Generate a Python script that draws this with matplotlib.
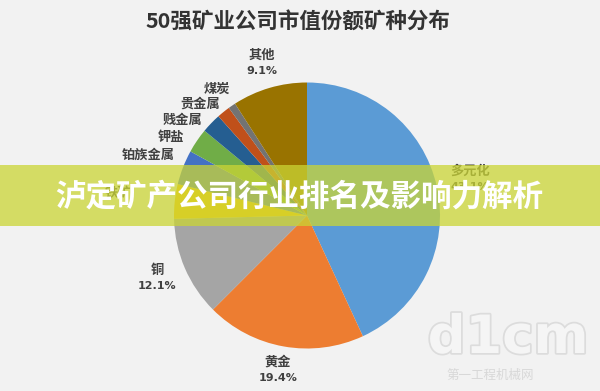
import matplotlib.pyplot as plt
from matplotlib.patches import Rectangle
import matplotlib.patheffects as pe

plt.rcParams['font.family'] = ['Noto Sans CJK SC', 'DejaVu Sans']

# share of market value, percent, clockwise from 12 o'clock
names = ['多元化', '黄金', '铜', '铁矿', '铂族金属', '钾盐', '贱金属', '贵金属', '煤炭', '其他']
shares = [43.1, 19.4, 12.1, 4.2, 4.2, 3.0, 2.4, 1.6, 0.9, 9.1]
colors = ['#5b9bd5', '#ed7d31', '#a5a5a5', '#ffc000', '#4472c4',
          '#70ad47', '#255e91', '#c0501a', '#737373', '#997300']
show_pct = [True, True, True, False, False, False, False, False, False, True]

# label anchor points in pixels (x, y from top)
label_pos = [(470, 171), (278, 362), (157, 270), (118, 193), (148, 155),
             (171, 137), (182, 120), (200, 104), (217, 89), (262, 55)]

W, H = 600, 391
fig = plt.figure(figsize=(6, 3.91), dpi=100)
fig.patch.set_facecolor('#f2f2f2')
ax = fig.add_axes([0, 0, 1, 1])
ax.set_facecolor('#f2f2f2')

ax.pie(shares, colors=colors, startangle=90, counterclock=False,
       center=(307, H - 215.5), radius=133,
       wedgeprops=dict(linewidth=0))
ax.set_xlim(0, W)
ax.set_ylim(0, H)
ax.set_aspect('equal')
ax.axis('off')

for name, s, p, (lx, ly) in zip(names, shares, show_pct, label_pos):
    ax.text(lx, H - ly, name, ha='center', va='center', fontsize=9.5,
            fontweight='bold', color='#404040')
    if p:
        ax.text(lx, H - ly - 16, f'{s:.1f}%', ha='center', va='center',
                fontsize=8, fontweight='bold', color='#404040',
                family='DejaVu Sans')

ax.text(298, H - 22, '50强矿业公司市值份额矿种分布', ha='center', va='center',
        fontsize=15.5, fontweight='bold', color='#333333')

# watermark
ax.text(508, H - 338, 'd1cm', ha='center', va='center', fontsize=38,
        fontweight='bold', color='#f5f5f5', family='DejaVu Sans',
        path_effects=[pe.withStroke(linewidth=2.5, foreground='#dcdcdc')])
ax.text(490, H - 375, '第一工程机械网', ha='center', va='center', fontsize=9,
        color='#d8d8d8')

# banner over the middle
fig.add_artist(Rectangle((0, 1 - 226 / H), 1, 61 / H, transform=fig.transFigure,
                         facecolor='#cad535', alpha=0.75, linewidth=0, zorder=5))
fig.text(299 / W, 1 - 197 / H, '泸定矿产公司行业排名及影响力解析', ha='center',
         va='center', fontsize=22, fontweight='bold', color='white', zorder=6)

fig.savefig('out.png', dpi=100, facecolor=fig.get_facecolor())
